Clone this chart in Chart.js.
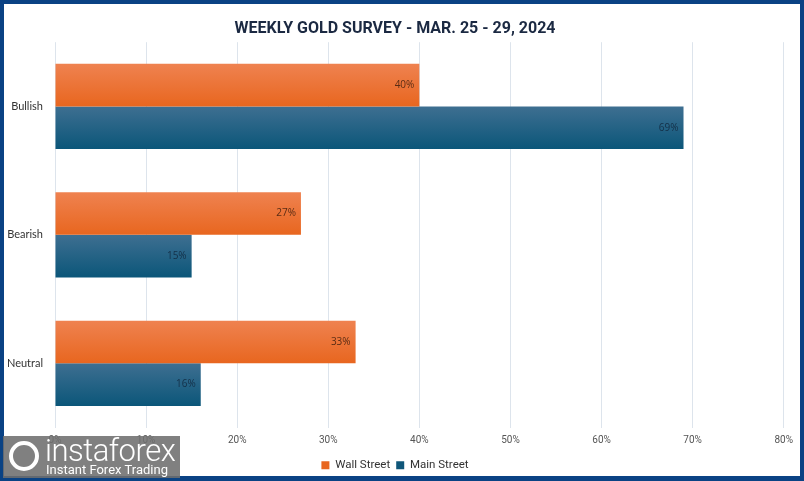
<!DOCTYPE html>
<html>
<head>
<meta charset="utf-8">
<script src="https://cdn.jsdelivr.net/npm/chart.js@4"></script>
<style>
html,body{margin:0;padding:0;background:#ffffff;}
#frame{position:absolute;left:0;top:0;width:796px;height:472px;border:4px solid #0a4284;border-bottom-width:5px;background:#fff;overflow:hidden;}
#wrap{position:absolute;left:0;top:0;width:796px;height:477px;}
#wm{position:absolute;left:3px;top:436px;width:177px;height:42px;background:rgba(110,110,110,0.88);color:#fff;}
#wm .gear{position:absolute;left:6px;top:5px;width:30px;height:30px;border-radius:50%;border:4px solid #fff;box-sizing:border-box;}
#wm .big{position:absolute;left:42px;top:-4px;font-size:31px;font-family:"Roboto",sans-serif;font-weight:300;letter-spacing:-0.5px;}
#wm .small{position:absolute;left:43px;top:26px;font-size:13px;font-family:"Roboto",sans-serif;}
</style>
</head>
<body>
<div id="frame"><div id="wrap"><canvas id="c" width="796" height="477"></canvas></div></div>
<div id="wm"><div class="gear"></div><div class="big">instaforex</div><div class="small">Instant Forex Trading</div></div>
<script>
const categories = ["Bullish", "Bearish", "Neutral"];
const wallStreet = [40, 27, 33];
const mainStreet = [69, 15, 16];
const tickLabels = ["0%", "10%", "20%", "30%", "40%", "50%", "60%", "70%", "80%"];
const seriesNames = ["Wall Street", "Main Street"];

const CAT_PCT = 0.664;
function makeGrad(c1, c2){
  return function(ctx){
    const chart = ctx.chart;
    const ys = chart.scales && chart.scales.y;
    if (!ys || ys.top === undefined || ctx.dataIndex === undefined || !isFinite(ys.bottom)) return c2;
    const center = ys.getPixelForValue(ctx.dataIndex);
    const band = (ys.bottom - ys.top) / categories.length;
    const half = band * CAT_PCT / 2;
    let t, b;
    if (ctx.datasetIndex === 0){ t = center - half; b = center; } else { t = center; b = center + half; }
    if (!isFinite(t) || !isFinite(b)) return c2;
    const g = chart.ctx.createLinearGradient(0, t, 0, b);
    g.addColorStop(0, c1);
    g.addColorStop(1, c2);
    return g;
  };
}

const labelPlugin = {
  id: 'barLabels',
  afterDatasetsDraw(chart){
    const ctx = chart.ctx;
    ctx.save();
    ctx.font = '10px "Open Sans", sans-serif';
    ctx.textAlign = 'right';
    ctx.textBaseline = 'middle';
    chart.data.datasets.forEach((ds, di) => {
      const meta = chart.getDatasetMeta(di);
      ctx.fillStyle = di === 0 ? '#5a2c14' : '#143048';
      meta.data.forEach((el, i) => {
        ctx.fillText(ds.data[i] + '%', el.x - 5, el.y);
      });
    });
    ctx.restore();
  }
};

new Chart(document.getElementById('c'), {
  type: 'bar',
  data: {
    labels: categories,
    datasets: [
      { label: seriesNames[0], data: wallStreet, backgroundColor: makeGrad('#ef8250', '#e8661f'), categoryPercentage: CAT_PCT, barPercentage: 1.0 },
      { label: seriesNames[1], data: mainStreet, backgroundColor: makeGrad('#3e6f91', '#0b5679'), categoryPercentage: CAT_PCT, barPercentage: 1.0 }
    ]
  },
  options: {
    indexAxis: 'y',
    responsive: false,
    animation: false,
    layout: { padding: { left: 0, right: 14, top: 0, bottom: 0 } },
    plugins: {
      title: {
        display: true,
        text: 'WEEKLY GOLD SURVEY - MAR. 25 - 29, 2024',
        color: '#1b2942',
        font: { family: '"Roboto", sans-serif', size: 16, weight: 'bold' },
        padding: { top: 15, bottom: 4 }
      },
      legend: {
        position: 'bottom',
        labels: {
          boxWidth: 8, boxHeight: 8, padding: 6,
          color: '#333',
          font: { family: '"Roboto", sans-serif', size: 11.5 },
          generateLabels(chart){
            return seriesNames.map((n, i) => ({ text: n, fillStyle: i === 0 ? '#e8661f' : '#0f5679', strokeStyle: 'transparent', lineWidth: 0, datasetIndex: i, fontColor: '#333' }));
          }
        }
      },
      tooltip: { enabled: false }
    },
    scales: {
      x: {
        min: 0, max: 80,
        ticks: {
          stepSize: 10,
          color: '#555',
          padding: 7,
          font: { family: '"Roboto", sans-serif', size: 10 },
          callback: (v, i) => tickLabels[i]
        },
        grid: { color: '#dde4ec', lineWidth: 1, drawTicks: false },
        border: { display: false }
      },
      y: {
        ticks: {
          color: '#333',
          padding: 4,
          font: { family: '"Lato", sans-serif', size: 11 }
        },
        grid: { display: false },
        border: { display: false },
        afterFit(scale){ scale.width = 51; }
      }
    }
  },
  plugins: [labelPlugin]
});
</script>
</body>
</html>
